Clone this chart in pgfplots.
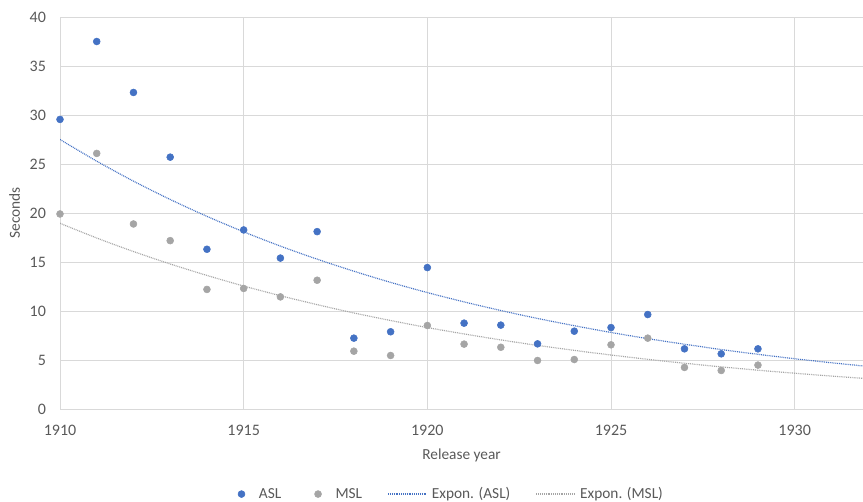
\documentclass[border=0pt]{standalone}
\usepackage{pgfplots}
\pgfplotsset{compat=1.18}
\usepackage{fontspec}
\setmainfont{Carlito}
\definecolor{asl}{HTML}{4472C4}
\definecolor{msl}{HTML}{A5A5A5}
\definecolor{gridc}{HTML}{D9D9D9}
\definecolor{txt}{HTML}{595959}
\pgfplotsset{
  trendleg/.style={legend image code/.code={\draw[##1] (0cm,0cm) -- (1cm,0cm);}},
  scatleg/.style={legend image code/.code={\fill[##1] (0.3cm,0cm) circle (2.6pt); \path[draw=none, fill=none] (0cm,0cm) rectangle (0.62cm,0.01cm);}},
}
\begin{document}
\begin{tikzpicture}
\useasboundingbox (-45pt,-69.75pt) rectangle (602.25pt,306.75pt);
\begin{axis}[
    scale only axis,
    width=602.25pt, height=294pt,
    xmin=1910, xmax=1931.86,
    ymin=0, ymax=40,
    xtick={1910,1915,1920,1925,1930},
    ytick={0,5,...,40},
    xticklabel style={/pgf/number format/1000 sep={}},
    /pgf/number format/assume math mode=true,
    tick label style={font=\fontsize{12}{13}\selectfont, text=txt},
    xticklabel style={yshift=-8.5pt},
    yticklabel style={xshift=-7pt},
    major tick length=0pt,
    grid=major,
    major grid style={gridc, line width=0.6pt},
    axis line style={draw=none},
    axis x line*=bottom, axis y line*=left,
    xlabel={Release year}, ylabel={Seconds},
    label style={font=\fontsize{11.5}{12}\selectfont, text=txt},
    xlabel style={at={(axis description cs:0.5,0)}, anchor=center, yshift=-34.5pt},
    ylabel style={at={(axis description cs:0,0.5)}, anchor=center, rotate=0, yshift=34pt},
    legend style={at={(axis description cs:0.483,-0.217)}, anchor=center, draw=none,
        legend columns=4, font=\fontsize{11.5}{12}\selectfont, text=txt,
        /tikz/every odd column/.append style={column sep=2pt},
        /tikz/every even column/.append style={column sep=17pt}},
    legend cell align=left,
    clip=true,
]
\draw[color=gridc!70!gray, line width=0.7pt] (axis cs:1910,0) -- (axis cs:1931.86,0);
\addplot[only marks, mark=*, mark size=2.6pt, color=asl, scatleg] coordinates {
(1910,29.55) (1911,37.5) (1912,32.3) (1913,25.7) (1914,16.3) (1915,18.27) (1916,15.4)
(1917,18.1) (1918,7.23) (1919,7.88) (1920,14.43) (1921,8.76) (1922,8.56) (1923,6.65)
(1924,7.94) (1925,8.31) (1926,9.64) (1927,6.14) (1928,5.63) (1929,6.14)};
\addlegendentry{ASL}
\addplot[only marks, mark=*, mark size=2.6pt, color=msl, scatleg] coordinates {
(1910,19.9) (1911,26.08) (1912,18.88) (1913,17.18) (1914,12.2) (1915,12.3) (1916,11.44)
(1917,13.14) (1918,5.9) (1919,5.46) (1920,8.52) (1921,6.62) (1922,6.3) (1923,4.95)
(1924,5.05) (1925,6.55) (1926,7.23) (1927,4.24) (1928,3.93) (1929,4.48)};
\addlegendentry{MSL}
\addplot[color=asl, line width=0.9pt, dash pattern=on 0.7pt off 0.7pt, smooth, trendleg] coordinates {
(1910,27.50) (1911,25.29) (1912,23.25) (1913,21.38) (1914,19.66) (1915,18.08) (1916,16.62)
(1917,15.29) (1918,14.06) (1919,12.92) (1920,11.88) (1921,10.93) (1922,10.05) (1923,9.24)
(1924,8.50) (1925,7.81) (1926,7.18) (1927,6.61) (1928,6.07) (1929,5.58) (1930,5.13)
(1931,4.72) (1932,4.34)};
\addlegendentry{Expon. (ASL)}
\addplot[color=msl, line width=0.9pt, dash pattern=on 0.7pt off 0.7pt, smooth, trendleg] coordinates {
(1910,18.95) (1911,17.45) (1912,16.07) (1913,14.80) (1914,13.63) (1915,12.55) (1916,11.56)
(1917,10.65) (1918,9.80) (1919,9.03) (1920,8.31) (1921,7.66) (1922,7.05) (1923,6.49)
(1924,5.98) (1925,5.51) (1926,5.07) (1927,4.67) (1928,4.30) (1929,3.96) (1930,3.65)
(1931,3.36) (1932,3.09)};
\addlegendentry{Expon. (MSL)}
\end{axis}
\end{tikzpicture}
\end{document}
